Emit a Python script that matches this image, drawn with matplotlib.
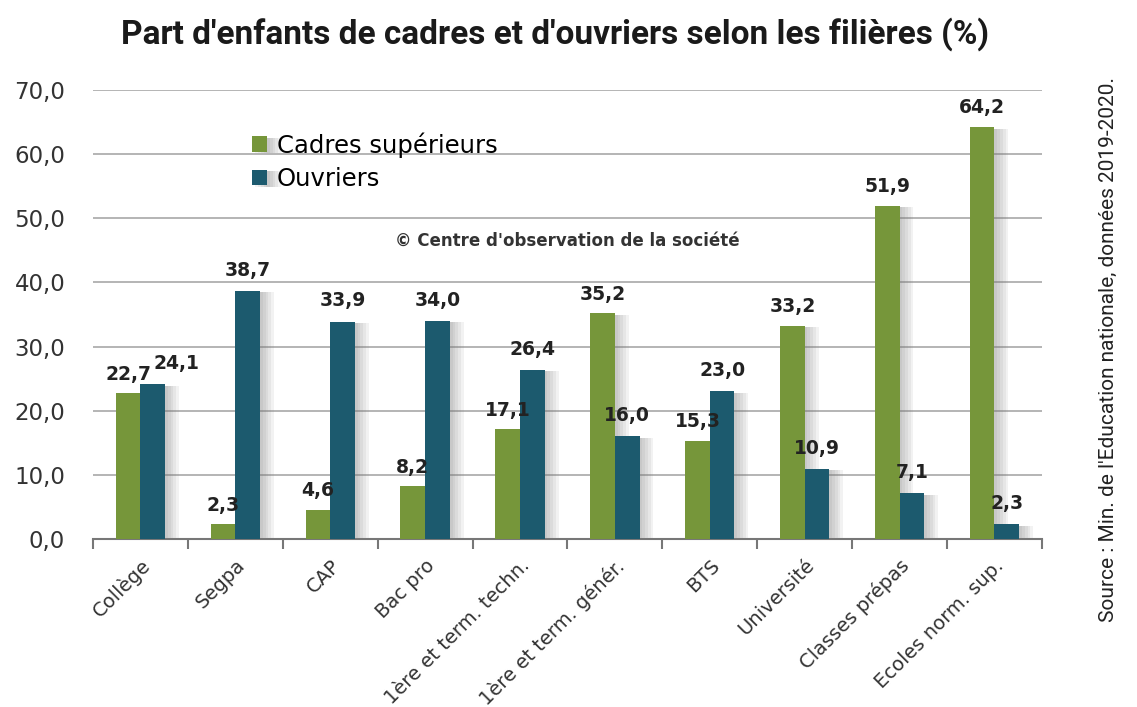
import numpy as np
import matplotlib
matplotlib.use("Agg")
import matplotlib.pyplot as plt
import matplotlib.patheffects as pe

# data
categories = ["Collège", "Segpa", "CAP", "Bac pro", "1ère et term. techn.",
              "1ère et term. génér.", "BTS", "Université", "Classes prépas",
              "Ecoles norm. sup."]
cadres = [22.7, 2.3, 4.6, 8.2, 17.1, 35.2, 15.3, 33.2, 51.9, 64.2]
ouvriers = [24.1, 38.7, 33.9, 34.0, 26.4, 16.0, 23.0, 10.9, 7.1, 2.3]

GREEN = "#76963a"
BLUE = "#1c5a6e"

plt.rcParams['font.family'] = ['DejaVu Sans']
narrow = ['Roboto', 'DejaVu Sans']

def fmt(v):
    return f"{v:.1f}".replace(".", ",")

fig = plt.figure(figsize=(11.37, 7.07), dpi=100)
ax = fig.add_axes([0.0818, 0.2376, 0.8346, 0.6351])

x = np.arange(len(categories))
w = 0.26
# soft shadow on the right side of each bar
shadow = [pe.SimplePatchShadow(offset=(d, -1), shadow_rgbFace='#777777', alpha=0.09)
          for d in (2, 4, 6, 8, 10)] + [pe.Normal()]
ax.bar(x - w / 2, cadres, w, color=GREEN, label="Cadres supérieurs", zorder=3,
       path_effects=shadow)
ax.bar(x + w / 2, ouvriers, w, color=BLUE, label="Ouvriers", zorder=3,
       path_effects=shadow)

for xi, v in zip(x - w / 2, cadres):
    ax.annotate(fmt(v), (xi, v), xytext=(0, 7), textcoords="offset points",
                ha="center", va="bottom", fontsize=13.5, fontweight="bold", color="#222222")
for i, (xi, v) in enumerate(zip(x + w / 2, ouvriers)):
    dx = 17 if i == 0 else 0
    ax.annotate(fmt(v), (xi, v), xytext=(dx, 8), textcoords="offset points",
                ha="center", va="bottom", fontsize=13.5, fontweight="bold", color="#222222")

ax.set_xlim(-0.5, len(categories) - 0.5)
ax.set_ylim(0, 70)
ax.set_yticks(np.arange(0, 71, 10))
ax.set_yticklabels([fmt(t) for t in np.arange(0, 71, 10)], fontsize=16.5, color="#333333")
ax.yaxis.grid(True, color="#a8a8a8", linewidth=1.2, zorder=0)
ax.tick_params(axis="y", length=0, pad=20)

ax.set_xticks(x)
ax.set_xticklabels(categories, rotation=45, ha="right", rotation_mode="anchor",
                   fontsize=14, color="#333333")
ax.tick_params(axis="x", length=0, pad=12)
ax.set_xticks(np.arange(-0.5, len(categories), 1), minor=True)
ax.tick_params(axis="x", which="minor", length=7, width=1.5, color="#777777")

for s in ["top", "right", "left"]:
    ax.spines[s].set_visible(False)
ax.spines["bottom"].set_color("#777777")
ax.spines["bottom"].set_linewidth(1.5)

ax.legend(loc="upper left", bbox_to_anchor=(0.145, 0.955), frameon=False, fontsize=17.5,
          handlelength=0.6, handleheight=0.6, handletextpad=0.4, labelspacing=0.4)

ax.text(0.50, 0.665, "© Centre d'observation de la société", transform=ax.transAxes,
        ha="center", va="center", fontsize=12, fontweight="bold", color="#333333")

fig.text(0.488, 0.952, "Part d'enfants de cadres et d'ouvriers selon les filières (%)",
         ha="center", va="center", fontsize=24, fontweight="bold", color="#1a1a1a",
         family=narrow)
fig.text(0.975, 0.505, "Source : Min. de l'Education nationale, données 2019-2020.",
         rotation=90, ha="center", va="center", fontsize=15, color="#222222",
         family=narrow)

fig.savefig("out.png", dpi=100, facecolor="white")
